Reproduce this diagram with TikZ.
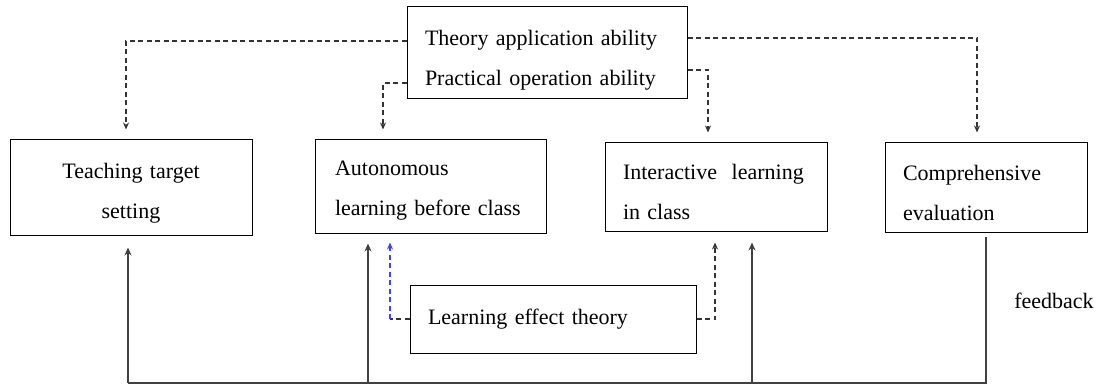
\documentclass[tikz,border=0pt]{standalone}
\usepackage{fontspec}
\setmainfont[WordSpace=0.85]{Liberation Serif}
\usetikzlibrary{arrows.meta}

\tikzstyle{box} = [draw,line width=1pt,inner ysep=0pt,font=\fontsize{22}{40}\selectfont]
\tikzstyle{label} = [font=\fontsize{22}{26}\selectfont]
\tikzstyle{dashedge} = [draw,line width=1.2pt,dash pattern=on 5pt off 3.5pt,black!80]
\tikzstyle{dasharrow} = [dashedge,-{Stealth[length=7pt,width=6pt]}]
\tikzstyle{bluearrow} = [dasharrow,blue!75,line width=1.4pt]
\tikzstyle{feededge} = [draw,line width=1.4pt,black!75]
\tikzstyle{feedarrow} = [feededge,-{Stealth[length=8pt,width=7pt]}]

\begin{document}
\begin{tikzpicture}[x=1pt,y=-1pt]
      \useasboundingbox (0,0) rectangle (1099,387);
      % nodes
      \foreach \nodename/\x/\y/\w/\h/\pad/\al/\sh/\txt in {
        top/547/53/280/92/18/left/29/{\mbox{Theory application ability}\\\mbox{Practical operation ability}},
        tts/131/188/242/96/18/center/25/{\mbox{Teaching target}\\setting},
        alb/430.5/187/231/94/20/left/22/{Autonomous\\\mbox{learning before class}},
        ilc/716/187.5/222/89/18/left/24/{\mbox{Interactive~ learning}\\\mbox{in class}},
        cev/986/188/202/90/18/left/25/{Comprehensive\\evaluation},
        let/553/319/286/68/18/left/0/{\mbox{Learning effect theory}}}
      {
        \node[box, inner xsep=\pad pt, text width=\w pt-2*\pad pt, minimum height=\h pt, align=\al] (\nodename) at (\x,\y) {\vrule height \sh pt width 0pt\txt};
      };
      \coordinate (fbleft) at (128,383);
      \coordinate (fbmid) at (368,383);
      \coordinate (fbright) at (752,383);
      \coordinate (bluecorner) at (390,319);
      \node[label] (fb) at (1054,301) {feedback};

      % dashed edges from the top box
      \path
      \foreach \side/\dy/\target/\dx in {
        west/12/tts/-5, west/-30/alb/-47.5, east/15/cev/-9, east/-17/ilc/-8}
      {
        ([yshift=\dy pt]top.\side) edge[dasharrow, to path={-| (\tikztotarget)}, shorten >=10pt] ([xshift=\dx pt]\target.north)
      };

      % learning effect theory
      \path[dashedge] (let.west) -- (bluecorner);
      \path[bluearrow, shorten >=8pt] (bluecorner) -- (bluecorner |- alb.south);
      \path[dasharrow, shorten >=10pt] (let.east) -| ([xshift=-1pt]ilc.south);

      %feedback edges
      \path[feededge, shorten <=4pt] (cev.south) |- (fbleft);
      \path
      \foreach \startnode/\endnode/\gap in {fbleft/tts/11, fbmid/alb/9, fbright/ilc/10}
      {
        (\startnode) edge[feedarrow, shorten >=\gap pt] (\startnode |- \endnode.south)
      };
\end{tikzpicture}
\end{document}
